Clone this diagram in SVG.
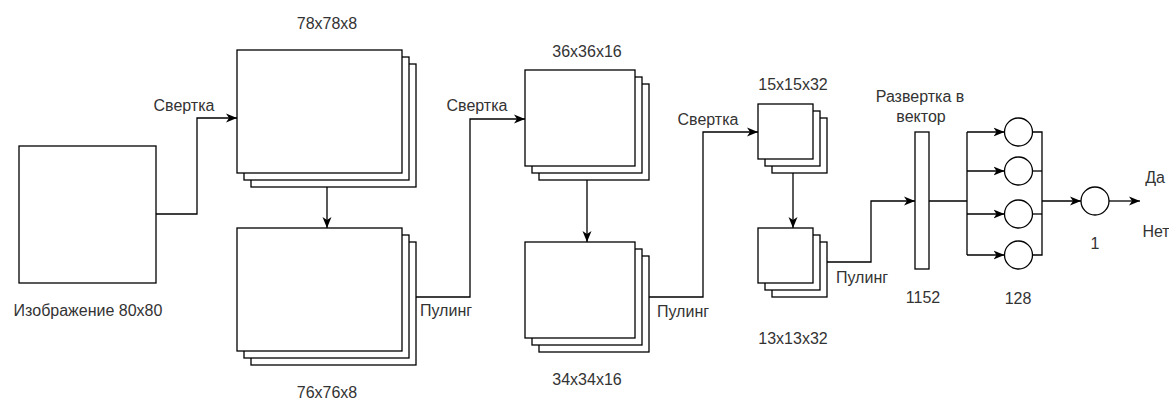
<svg xmlns="http://www.w3.org/2000/svg" width="1169" height="401" viewBox="0 0 1169 401">
<style>
.s{fill:#fff;stroke:#000;stroke-width:1.3}
.c{fill:none;stroke:#000;stroke-width:1.3}
.t{font-family:"Liberation Sans",Arial,sans-serif;font-size:16px;fill:#333;text-anchor:middle;dominant-baseline:central}
</style>
<defs>
<marker id="a" markerUnits="userSpaceOnUse" markerWidth="12" markerHeight="10" viewBox="0 0 12 10" refX="11" refY="5" orient="auto">
<path d="M0,0.5 L11,5 L0,9.5 L3,5 Z" fill="#000"/>
</marker>
</defs>
<rect width="1169" height="401" fill="#fff"/>
<g id="input">
<rect class="s" x="19" y="146" width="137" height="137"/>
<text class="t" x="88" y="310">Изображение 80x80</text>
</g>
<g id="conv1">
<rect class="s" x="251" y="64" width="165" height="123"/>
<rect class="s" x="244" y="57" width="165" height="123"/>
<rect class="s" x="237" y="50" width="165" height="123"/>
<text class="t" x="327" y="23">78x78x8</text>
</g>
<g id="pool1">
<rect class="s" x="251" y="242" width="165" height="123"/>
<rect class="s" x="244" y="235" width="165" height="123"/>
<rect class="s" x="237" y="228" width="165" height="123"/>
<text class="t" x="327" y="392">76x76x8</text>
</g>
<g id="conv2">
<rect class="s" x="539" y="84" width="110" height="96"/>
<rect class="s" x="532" y="77" width="110" height="96"/>
<rect class="s" x="525" y="70" width="110" height="96"/>
<text class="t" x="587" y="51">36x36x16</text>
</g>
<g id="pool2">
<rect class="s" x="539" y="256" width="110" height="96"/>
<rect class="s" x="532" y="249" width="110" height="96"/>
<rect class="s" x="525" y="242" width="110" height="96"/>
<text class="t" x="587" y="379">34x34x16</text>
</g>
<g id="conv3">
<rect class="s" x="772" y="118" width="55" height="55"/>
<rect class="s" x="765" y="111" width="55" height="55"/>
<rect class="s" x="758" y="104" width="55" height="55"/>
<text class="t" x="793" y="84">15x15x32</text>
</g>
<g id="pool3">
<rect class="s" x="772" y="242" width="55" height="55"/>
<rect class="s" x="765" y="235" width="55" height="55"/>
<rect class="s" x="758" y="228" width="55" height="55"/>
<text class="t" x="793" y="338">13x13x32</text>
</g>
<g id="flatten">
<rect class="s" x="915" y="132" width="14" height="137"/>
<text class="t" x="920" y="96">Развертка в</text>
<text class="t" x="921" y="116">вектор</text>
<text class="t" x="923" y="297">1152</text>
</g>
<g id="dense">
<circle class="s" cx="1018.5" cy="132" r="14"/>
<circle class="s" cx="1018.5" cy="171" r="14"/>
<circle class="s" cx="1018.5" cy="214" r="14"/>
<circle class="s" cx="1018.5" cy="255" r="14"/>
<text class="t" x="1018" y="298">128</text>
</g>
<g id="output">
<circle class="s" cx="1095" cy="201" r="14"/>
<text class="t" x="1095" y="243">1</text>
</g>
<g id="connectors">
<polyline class="c" points="156,214 197,214 197,118 237,118" marker-end="url(#a)"/>
<line class="c" x1="327" y1="187" x2="327" y2="228" marker-end="url(#a)"/>
<polyline class="c" points="416,297 470,297 470,119 525,119" marker-end="url(#a)"/>
<line class="c" x1="587" y1="180" x2="587" y2="242" marker-end="url(#a)"/>
<polyline class="c" points="649,297 703,297 703,132 758,132" marker-end="url(#a)"/>
<line class="c" x1="793" y1="173" x2="793" y2="228" marker-end="url(#a)"/>
<polyline class="c" points="827,262 871,262 871,201 915,201" marker-end="url(#a)"/>
<line class="c" x1="929" y1="201" x2="967" y2="201"/>
<line class="c" x1="967" y1="132" x2="967" y2="255"/>
<line class="c" x1="967" y1="132" x2="1004.5" y2="132" marker-end="url(#a)"/>
<line class="c" x1="967" y1="171" x2="1004.5" y2="171" marker-end="url(#a)"/>
<line class="c" x1="967" y1="214" x2="1004.5" y2="214" marker-end="url(#a)"/>
<line class="c" x1="967" y1="255" x2="1004.5" y2="255" marker-end="url(#a)"/>
<polyline class="c" points="1032.5,132 1042,132 1042,255 1032.5,255"/>
<line class="c" x1="1032.5" y1="171" x2="1042" y2="171"/>
<line class="c" x1="1032.5" y1="214" x2="1042" y2="214"/>
<line class="c" x1="1042" y1="201" x2="1081" y2="201" marker-end="url(#a)"/>
<line class="c" x1="1109" y1="201" x2="1140" y2="201" marker-end="url(#a)"/>
</g>
<g id="labels">
<text class="t" x="184" y="105">Свертка</text>
<text class="t" x="446" y="310">Пулинг</text>
<text class="t" x="477" y="105">Свертка</text>
<text class="t" x="683" y="311">Пулинг</text>
<text class="t" x="708" y="119">Свертка</text>
<text class="t" x="862" y="277">Пулинг</text>
<text class="t" x="1155" y="177">Да</text>
<text class="t" x="1156" y="231">Нет</text>
</g>
</svg>
